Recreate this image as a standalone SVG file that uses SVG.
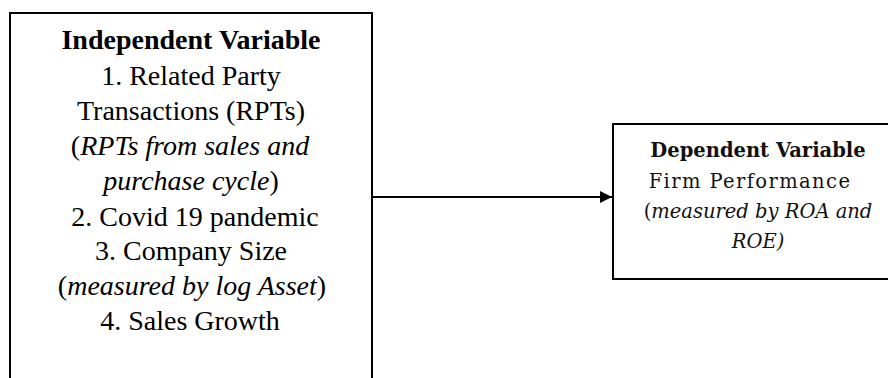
<svg xmlns="http://www.w3.org/2000/svg" width="888" height="378" viewBox="0 0 888 378">
<style>
.box{fill:#fff;stroke:#000;stroke-width:2}
.t1{font-family:"Liberation Serif","Times New Roman",serif;font-size:28px;fill:#000;text-anchor:middle}
.t2{font-family:"DejaVu Serif","Liberation Serif",serif;font-size:19.5px;fill:#111;text-anchor:middle}
.b{font-weight:bold}
.i{font-style:italic}
.conn{stroke:#000;stroke-width:2;fill:none}
</style>
<defs>
<marker id="arr" markerWidth="12" markerHeight="12" refX="12" refY="6" orient="auto" markerUnits="userSpaceOnUse">
<path d="M0,0 L12,6 L0,12 Z" fill="#000"/>
</marker>
</defs>
<rect width="888" height="378" fill="#fff"/>
<g id="independent">
<rect class="box" x="10" y="13" width="362" height="380"/>
<text class="t1 b" x="191" y="49">Independent Variable</text>
<text class="t1" x="191" y="85">1.  Related Party</text>
<text class="t1" x="191" y="120">Transactions (RPTs)</text>
<text class="t1" x="190" y="155">(<tspan class="i">RPTs from sales and</tspan></text>
<text class="t1" x="191" y="190"><tspan class="i">purchase cycle</tspan>)</text>
<text class="t1" x="195" y="226">2. Covid 19 pandemic</text>
<text class="t1" x="191" y="260">3. Company Size</text>
<text class="t1" x="192" y="295">(<tspan class="i">measured by log Asset</tspan>)</text>
<text class="t1" x="190" y="330">4. Sales Growth</text>
</g>
<g id="dependent">
<rect class="box" x="613" y="124" width="290" height="155"/>
<text class="t2 b" x="758" y="157">Dependent  Variable</text>
<text class="t2" x="750" y="188" letter-spacing="1.4">Firm Performance</text>
<text class="t2" x="758" y="218">(<tspan class="i">measured by ROA and</tspan></text>
<text class="t2 i" x="758" y="248">ROE)</text>
</g>
<g id="connectors">
<line class="conn" x1="372" y1="197" x2="612" y2="197" marker-end="url(#arr)"/>
</g>
</svg>
